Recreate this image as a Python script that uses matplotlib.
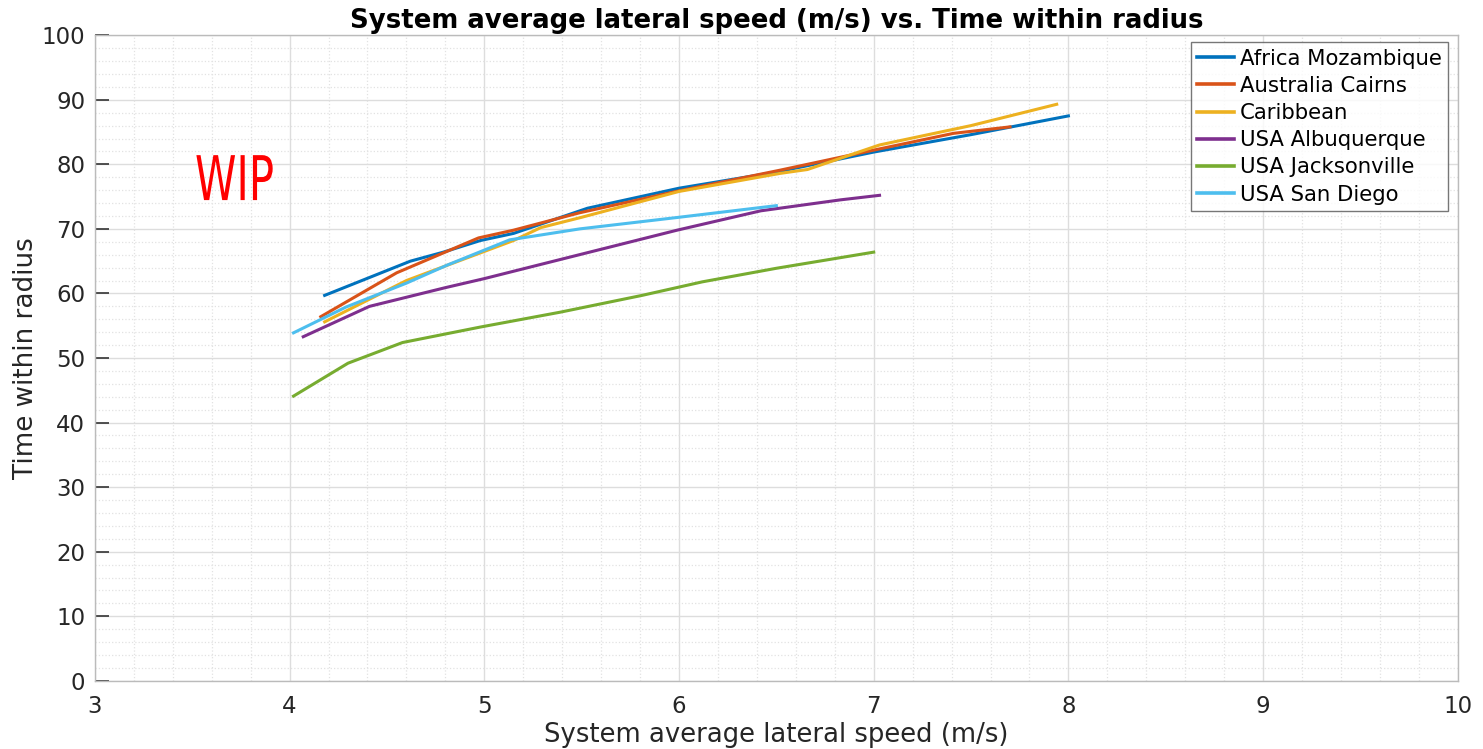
import matplotlib
matplotlib.use("Agg")
import matplotlib.pyplot as plt
from matplotlib.ticker import MultipleLocator
from matplotlib.patheffects import AbstractPathEffect
from matplotlib.transforms import Affine2D

# Speed (m/s) and time-within-radius values per site
africa_x = [4.18, 4.62, 4.79, 4.98, 5.15, 5.53, 6.0, 6.5, 7.0, 7.5, 8.0]
africa_y = [59.7, 65.0, 66.4, 68.2, 69.3, 73.2, 76.3, 78.8, 81.9, 84.6, 87.5]

cairns_x = [4.16, 4.55, 4.97, 5.15, 5.49, 6.0, 6.52, 7.0, 7.41, 7.70]
cairns_y = [56.4, 63.2, 68.6, 69.8, 72.5, 75.9, 79.1, 82.2, 84.8, 85.8]

caribbean_x = [4.18, 4.6, 5.15, 5.29, 5.5, 6.0, 6.52, 6.66, 7.03, 7.5, 7.94]
caribbean_y = [55.6, 62.0, 68.2, 70.2, 71.8, 75.8, 78.6, 79.2, 83.0, 86.0, 89.3]

albuquerque_x = [4.07, 4.41, 4.8, 5.0, 5.29, 5.99, 6.42, 6.83, 7.03]
albuquerque_y = [53.3, 58.0, 60.9, 62.3, 64.5, 69.8, 72.8, 74.5, 75.2]

jacksonville_x = [4.02, 4.30, 4.58, 4.98, 5.39, 5.81, 6.12, 6.5, 7.0]
jacksonville_y = [44.1, 49.2, 52.4, 54.8, 57.1, 59.7, 61.8, 63.9, 66.4]

sandiego_x = [4.02, 4.29, 4.6, 4.81, 5.13, 5.49, 6.0, 6.50]
sandiego_y = [53.9, 57.9, 61.6, 64.4, 68.3, 70.0, 71.8, 73.6]

labels = ["Africa Mozambique", "Australia Cairns", "Caribbean",
          "USA Albuquerque", "USA Jacksonville", "USA San Diego"]
colors = ["#0072BD", "#D95319", "#EDB120", "#7E2F8E", "#77AC30", "#4DBEEE"]

series = [(africa_x, africa_y), (cairns_x, cairns_y), (caribbean_x, caribbean_y),
          (albuquerque_x, albuquerque_y), (jacksonville_x, jacksonville_y),
          (sandiego_x, sandiego_y)]


class HorizontalSqueeze(AbstractPathEffect):
    """Narrows glyph outlines horizontally about the text's anchor point."""

    def __init__(self, factor):
        super().__init__()
        self.factor = factor
        self.text = None

    def draw_path(self, renderer, gc, tpath, affine, rgbFace=None):
        x0 = self.text.get_transform().transform(self.text.get_position())[0]
        squeeze = Affine2D().translate(-x0, 0).scale(self.factor, 1).translate(x0, 0)
        renderer.draw_path(gc, tpath, affine + squeeze, rgbFace)


plt.rcParams['font.family'] = ['DejaVu Sans']

fig = plt.figure(figsize=(14.83, 7.49), dpi=100)
ax = fig.add_axes([0.064, 0.091, 0.919, 0.862])

for (xs, ys), lab, col in zip(series, labels, colors):
    ax.plot(xs, ys, color=col, linewidth=2.2, label=lab)

ax.set_xlim(3, 10)
ax.set_ylim(0, 100)
ax.xaxis.set_major_locator(MultipleLocator(1))
ax.xaxis.set_minor_locator(MultipleLocator(0.2))
ax.yaxis.set_major_locator(MultipleLocator(10))
ax.yaxis.set_minor_locator(MultipleLocator(2))

ax.grid(which='major', color='#dddddd', linewidth=1.0, linestyle='-')
ax.grid(which='minor', color='#e2e2e2', linewidth=0.9, linestyle=':')
ax.set_axisbelow(True)

for s in ax.spines.values():
    s.set_color('#bbbbbb')
    s.set_linewidth(1.0)

ax.tick_params(axis='y', which='major', direction='in', length=10, width=1.2,
               color='#333333', labelcolor='#262626', labelsize=16.5, pad=7,
               right=False)
ax.tick_params(axis='x', which='major', direction='in', length=0,
               labelcolor='#262626', labelsize=16.5, pad=10)
ax.tick_params(which='minor', length=0)

ax.set_title("System average lateral speed (m/s) vs. Time within radius",
             fontsize=18.7, fontweight='bold', pad=5)
ax.set_xlabel("System average lateral speed (m/s)", fontsize=18.6,
              labelpad=3, color='#262626')
ax.set_ylabel("Time within radius", fontsize=18.8, labelpad=2, color='#262626')

wip = ax.text(3.514, 74.46, "WIP", color='red', fontsize=44.4,
              ha='left', va='baseline')
squeeze = HorizontalSqueeze(0.68)
squeeze.text = wip
wip.set_path_effects([squeeze])

leg = ax.legend(loc='upper right', bbox_to_anchor=(0.9927, 0.9892),
                borderaxespad=0.0, fontsize=15.3, frameon=True, fancybox=False,
                handlelength=1.75, handletextpad=0.25, borderpad=0.3,
                labelspacing=0.34)
leg.get_frame().set_edgecolor('#555555')
leg.get_frame().set_linewidth(1.0)
for line in leg.get_lines():
    line.set_linewidth(2.6)

fig.savefig("out.png", dpi=100)
